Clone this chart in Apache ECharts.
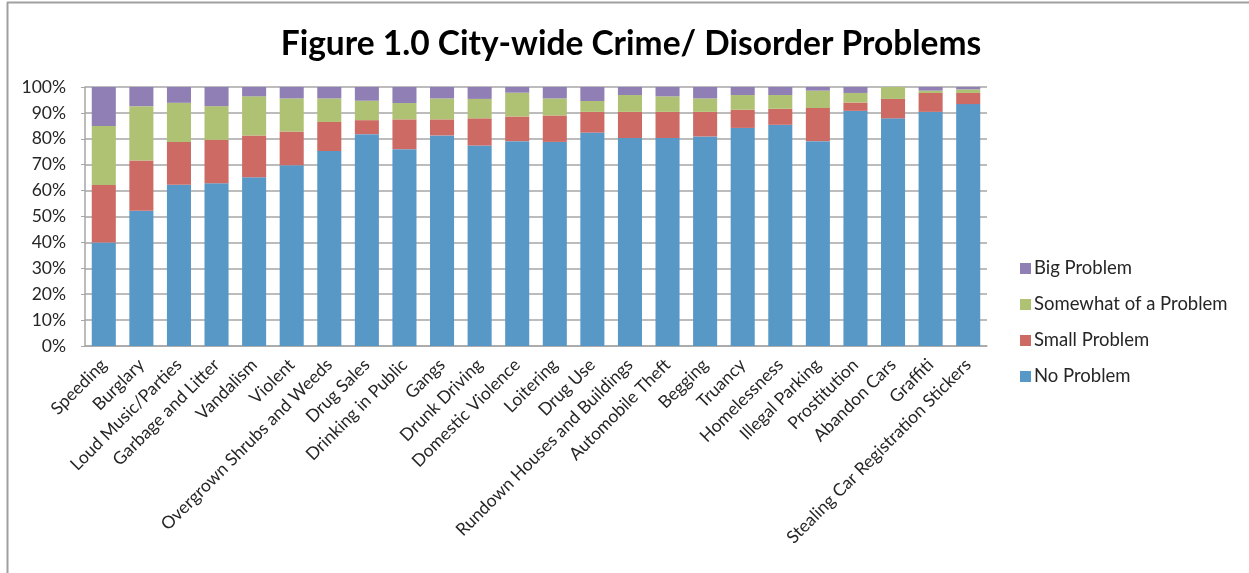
<!DOCTYPE html>
<html>
<head>
<meta charset="utf-8">
<script src="https://cdn.jsdelivr.net/npm/echarts@6/dist/echarts.min.js"></script>
<style>
  html, body { margin: 0; padding: 0; background: #fff; }
  #chart { width: 1249px; height: 573px; }
</style>
</head>
<body>
<div id="chart"></div>
<script>
// Survey categories, left to right
const categories = [
  'Speeding', 'Burglary', 'Loud Music/Parties', 'Garbage and Litter', 'Vandalism',
  'Violent', 'Overgrown Shrubs and Weeds', 'Drug Sales', 'Drinking in Public', 'Gangs',
  'Drunk Driving', 'Domestic Violence', 'Loitering', 'Drug Use',
  'Rundown Houses and Buildings', 'Automobile Theft', 'Begging', 'Truancy',
  'Homelessness', 'Illegal Parking', 'Prostitution', 'Abandon Cars', 'Graffiti',
  'Stealing Car Registration Stickers'
];

// Share of responses (%) per category
const noProblem = [40.0, 52.2, 62.3, 62.8, 65.2, 69.8, 75.3, 81.8, 76.0, 81.3, 77.4, 79.1,
  78.8, 82.4, 80.3, 80.3, 80.9, 84.2, 85.4, 79.1, 90.8, 87.9, 90.4, 93.4];
const smallProblem = [22.2, 19.4, 16.5, 16.8, 16.1, 13.0, 11.2, 5.4, 11.5, 6.2, 10.5, 9.5,
  10.2, 8.0, 10.1, 10.1, 9.5, 7.0, 6.2, 12.8, 3.2, 7.5, 7.3, 4.3];
const somewhatProblem = [22.7, 21.0, 15.1, 13.0, 15.1, 12.8, 9.1, 7.5, 6.3, 8.1, 7.5, 9.2,
  6.6, 4.2, 6.5, 6.0, 5.2, 5.7, 5.3, 6.7, 3.7, 4.6, 0.9, 1.4];
const bigProblem = [15.1, 7.4, 6.1, 7.4, 3.6, 4.4, 4.4, 5.3, 6.2, 4.4, 4.6, 2.2,
  4.4, 5.4, 3.1, 3.6, 4.4, 3.1, 3.1, 1.4, 2.3, 0.0, 1.4, 0.9];

// Y-axis ticks
const yTicks = [0, 10, 20, 30, 40, 50, 60, 70, 80, 90, 100];

const FONT = 'Lato, "Open Sans", sans-serif';
const TEXT = '#262626';

const chart = echarts.init(document.getElementById('chart'), null, { renderer: 'canvas' });

function bar(name, data, color) {
  return {
    name: name,
    type: 'bar',
    stack: 'total',
    data: data,
    barCategoryGap: '36%',
    itemStyle: { color: color },
    emphasis: { disabled: true }
  };
}

chart.setOption({
  animation: false,
  backgroundColor: '#fff',
  title: {
    text: 'Figure 1.0 City-wide Crime/ Disorder Problems',
    left: 626,
    textAlign: 'center',
    top: 22,
    textStyle: { fontFamily: FONT, fontWeight: 'bold', fontSize: 33.5, color: '#000' }
  },
  legend: {
    orient: 'vertical',
    left: 1015,
    top: 254,
    itemWidth: 11,
    itemHeight: 11,
    itemGap: 17,
    icon: 'rect',
    data: ['Big Problem', 'Somewhat of a Problem', 'Small Problem', 'No Problem'],
    textStyle: { fontFamily: FONT, fontSize: 18.5, lineHeight: 18, color: TEXT, padding: [0, 0, 0, -2] }
  },
  grid: { left: 85, right: 262, top: 87, bottom: 227, containLabel: false },
  xAxis: {
    type: 'category',
    data: categories,
    axisLine: { lineStyle: { color: '#a6a6a6', width: 1.5 } },
    axisTick: { show: false },
    axisLabel: {
      interval: 0,
      rotate: 45,
      margin: 16,
      fontFamily: FONT,
      fontSize: 17.5,
      color: TEXT
    }
  },
  yAxis: {
    type: 'value',
    min: yTicks[0],
    max: yTicks[yTicks.length - 1],
    interval: 10,
    axisLine: { show: true, lineStyle: { color: '#a6a6a6', width: 1.5 } },
    axisTick: { show: true, length: 4, lineStyle: { color: '#a6a6a6' } },
    splitLine: { lineStyle: { color: '#a6a6a6', width: 1.5 } },
    axisLabel: {
      formatter: '{value}%',
      margin: 19,
      fontFamily: FONT,
      fontSize: 17.5,
      color: TEXT
    }
  },
  series: [
    bar('No Problem', noProblem, '#5898C7'),
    bar('Small Problem', smallProblem, '#CD6A64'),
    bar('Somewhat of a Problem', somewhatProblem, '#AFC172'),
    bar('Big Problem', bigProblem, '#907FB4')
  ],
  graphic: [
    // chart frame: top and left edges
    { type: 'line', shape: { x1: 7, y1: 2.5, x2: 1249, y2: 2.5 }, style: { stroke: '#a0a0a0', lineWidth: 2 } },
    { type: 'line', shape: { x1: 7.5, y1: 2, x2: 7.5, y2: 573 }, style: { stroke: '#a0a0a0', lineWidth: 2 } }
  ]
});
</script>
</body>
</html>
